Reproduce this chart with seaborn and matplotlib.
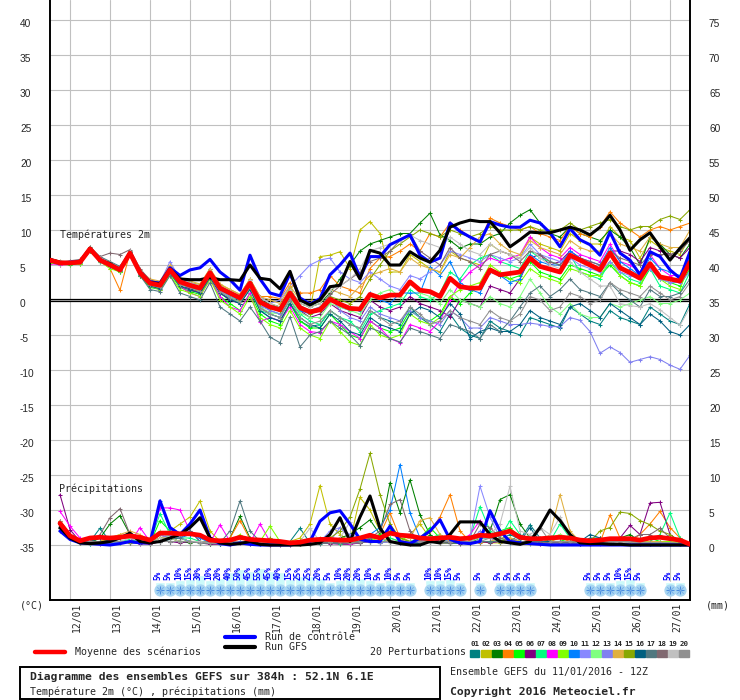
import matplotlib
matplotlib.use("Agg")
import matplotlib.pyplot as plt
import matplotlib.transforms as mtransforms
from matplotlib.patches import Rectangle
from matplotlib.lines import Line2D
import seaborn as sns

sns.set_style("white")
plt.rcParams['font.family'] = ['DejaVu Sans']
plt.rcParams['axes.unicode_minus'] = False
MONO = 'DejaVu Sans Mono'

# forecast steps (hours from 11/01 12Z), every 6h up to 384h
hours = list(range(0, 385, 6))
precip_hours = hours[1:]

day_labels = ['12/01', '13/01', '14/01', '15/01', '16/01', '17/01', '18/01', '19/01',
              '20/01', '21/01', '22/01', '23/01', '24/01', '25/01', '26/01', '27/01']
day_hours = [12 + 24 * k for k in range(len(day_labels))]

pert_names = ['01', '02', '03', '04', '05', '06', '07', '08', '09', '10',
              '11', '12', '13', '14', '15', '16', '17', '18', '19', '20']
pert_colors = ['#008080', '#c0c000', '#008000', '#ff8000', '#00ff00', '#800080', '#00ff80',
               '#ff00ff', '#80ff00', '#0080ff', '#8888ff', '#80ff80', '#8080f0', '#e0b040',
               '#88a800', '#006080', '#507880', '#806870', '#c0c0c0', '#909090']

# ---- temperature 2m (°C)
temp_mean = [5.7, 5.3, 5.3, 5.4, 7.3, 5.7, 5.0, 4.3, 6.7, 3.9,
             2.4, 2.1, 4.3, 2.6, 2.1, 1.7, 3.9, 1.7, 1.0, 0.3,
             2.4, -0.3, -1.0, -1.4, 1.0, -1.1, -1.7, -1.4, 0.1, -0.6,
             -1.2, -1.3, 0.8, 0.3, 0.7, 0.7, 2.6, 1.4, 1.2, 0.5,
             3.1, 1.9, 1.7, 1.7, 4.3, 3.6, 3.8, 4.0, 6.0, 4.8,
             4.4, 4.0, 6.4, 5.7, 5.0, 4.3, 6.7, 4.6, 3.9, 3.1,
             5.2, 3.3, 3.0, 2.7, 5.4]
temp_ctrl = [5.6, 5.2, 5.4, 5.5, 7.2, 5.8, 5.1, 4.4, 6.6, 4.0,
             2.6, 2.4, 4.6, 3.5, 4.3, 4.6, 5.8, 4.0, 2.9, 1.4,
             6.4, 3.0, 1.0, 0.6, 3.8, 0.3, -0.6, 0.2, 3.6, 5.0,
             6.7, 3.2, 6.2, 6.2, 7.9, 8.6, 9.3, 6.4, 5.4, 6.0,
             11.0, 9.8, 9.0, 8.3, 11.2, 10.7, 10.4, 10.4, 11.4, 11.0,
             9.6, 7.6, 10.2, 8.6, 7.9, 6.4, 9.7, 6.7, 5.7, 3.6,
             6.9, 6.2, 4.3, 3.1, 6.9]
temp_gfs = [5.8, 5.4, 5.2, 5.5, 7.4, 5.6, 5.2, 4.2, 6.8, 3.8,
            2.5, 2.3, 4.4, 3.0, 2.9, 2.9, 3.2, 2.9, 2.9, 2.8,
            5.0, 3.1, 2.9, 1.6, 4.1, 0.0, -0.7, 0.0, 1.9, 2.1,
            5.5, 3.0, 7.1, 6.7, 5.0, 5.0, 6.9, 6.0, 5.4, 7.1,
            10.4, 11.0, 11.4, 11.2, 11.2, 9.6, 7.6, 8.6, 9.7, 9.6,
            9.6, 10.0, 10.4, 10.0, 9.3, 10.4, 12.1, 10.0, 7.1, 8.6,
            9.6, 7.6, 5.7, 7.4, 8.9]

T01 = [5.9, 5.5, 5.2, 5.6, 7.0, 5.5, 4.8, 4.0, 6.5, 3.5,
       2.0, 1.8, 4.0, 2.0, 1.6, 1.2, 3.5, 1.0, 0.2, -0.5,
       1.5, -1.5, -2.5, -3.0, -0.5, -3.0, -3.8, -3.5, -1.5, -2.5,
       -3.5, -4.0, -1.5, -2.5, -3.0, -3.5, -1.0, -2.5, -3.5, -4.5,
       -2.0, -4.0, -5.0, -5.5, -3.0, -4.0, -4.5, -5.0, -2.5, -3.0,
       -3.5, -4.0, -1.0, -2.0, -3.0, -3.5, -1.5, -2.5, -3.0, -3.5,
       -1.0, -2.0, -3.0, -3.5, -0.5]
T02 = [5.4, 5.0, 5.5, 5.2, 7.5, 6.0, 5.3, 4.6, 7.0, 4.2,
       2.8, 2.6, 4.8, 3.0, 2.5, 2.2, 4.2, 2.2, 1.5, 0.8,
       3.0, 0.5, -0.5, -1.0, 1.8, -1.0, -1.5, 6.2, 6.4, 6.9,
       4.5, 10.0, 11.2, 9.5, 4.0, 4.0, 6.5, 5.5, 4.5, 4.0,
       7.0, 6.0, 5.5, 5.0, 8.0, 7.0, 6.5, 6.0, 9.0, 8.0,
       7.5, 7.0, 9.5, 8.5, 8.0, 8.0, 10.5, 9.0, 8.5, 6.0,
       8.5, 7.5, 7.0, 6.5, 9.0]
T03 = [5.6, 5.4, 5.4, 5.3, 7.2, 5.7, 5.0, 4.2, 6.8, 4.0,
       2.6, 2.2, 4.5, 2.8, 2.3, 1.9, 4.0, 1.8, 1.1, 0.5,
       2.6, 0.0, -0.6, -1.0, 1.5, -0.5, -1.0, -0.5, 1.0, 3.0,
       5.0, 7.0, 8.0, 8.5, 9.0, 9.5, 9.5, 11.0, 12.4, 9.3,
       8.5, 7.4, 8.0, 8.0, 9.0, 9.5, 11.0, 12.1, 12.9, 11.0,
       9.5, 9.0, 10.5, 9.5, 9.0, 8.5, 10.0, 9.0, 7.5, 5.0,
       9.0, 8.0, 6.5, 6.0, 8.0]
T04 = [5.5, 5.3, 5.5, 5.6, 7.0, 5.6, 4.5, 1.4, 6.8, 3.5,
       2.5, 2.0, 4.5, 2.0, 1.0, 1.5, 4.0, 1.5, 1.0, 0.5,
       2.0, 0.5, 0.5, 0.2, 2.5, 1.0, 1.0, 1.5, 3.5, 2.0,
       1.5, 1.0, 4.5, 6.0, 6.2, 7.0, 8.0, 7.0, 9.5, 9.0,
       11.0, 10.0, 9.0, 8.5, 11.7, 11.0, 10.5, 10.0, 10.5, 9.5,
       9.0, 8.5, 10.5, 9.5, 9.0, 10.5, 12.6, 11.0, 10.0, 9.0,
       10.0, 10.5, 10.0, 10.5, 11.0]
T05 = [5.3, 5.2, 5.0, 5.2, 7.0, 5.5, 4.8, 4.0, 6.5, 3.5,
       1.8, 1.5, 3.8, 1.8, 1.2, 0.8, 3.0, 0.5, -0.5, -1.5,
       1.0, -2.0, -3.0, -3.5, -0.5, -3.0, -4.0, -4.0, -2.0, -3.5,
       -5.0, -5.5, -3.0, -4.0, -4.5, -4.0, -1.5, -2.5, -3.0, -2.0,
       0.5, -0.5, 1.0, 2.0, 4.5, 3.5, 3.0, 3.5, 5.5, 4.0,
       3.5, 3.0, 5.0, 4.5, 4.0, 3.5, 5.0, 3.5, 2.5, 2.0,
       4.5, 3.0, 2.5, 2.0, 4.5]
T06 = [5.8, 5.4, 5.2, 5.4, 7.3, 5.6, 4.9, 4.3, 6.5, 3.8,
       2.2, 2.0, 4.0, 2.5, 1.5, 1.0, 3.5, 1.0, 0.0, -0.5,
       2.0, -1.0, -2.0, -2.5, 0.5, -1.5, -2.5, -2.0, -0.5, -1.5,
       -2.0, -2.5, 0.0, -1.0, -1.5, -1.0, 0.5, -0.5, -1.0, -1.5,
       -2.4, 0.0, -0.5, -1.0, 2.0, 1.5, 1.0, 3.0, 6.0, 6.5,
       5.0, 5.5, 7.0, 6.0, 5.0, 4.5, 7.0, 7.0, 6.5, 5.5,
       7.5, 7.0, 6.5, 6.0, 7.5]
T07 = [5.6, 5.3, 5.3, 5.4, 7.4, 5.8, 5.2, 4.5, 6.8, 3.8,
       2.3, 2.0, 4.2, 2.4, 2.0, 1.5, 3.8, 1.5, 0.5, -0.5,
       1.8, -1.5, -2.0, -2.5, 0.0, -2.0, -3.0, -3.5, -1.5, -2.5,
       -3.0, -4.5, -2.0, -1.5, -1.0, -0.5, 1.5, 0.5, 0.0, 1.0,
       4.0, 3.0, 5.0, 6.0, 6.5, 5.5, 5.0, 4.5, 7.0, 6.0,
       5.5, 5.0, 6.5, 4.0, 3.5, 3.0, 5.5, 4.0, 3.0, 2.5,
       4.5, 2.0, 1.5, 1.0, 4.0]
T08 = [5.2, 5.0, 5.1, 5.3, 7.1, 5.9, 5.2, 4.5, 6.4, 3.9,
       2.0, 1.5, 4.0, 2.0, 1.0, 0.5, 3.0, 0.5, -1.0, -1.5,
       1.0, -3.1, -2.5, -3.0, -1.0, -3.5, -4.5, -4.7, -3.0, -3.5,
       -4.5, -5.5, -3.0, -4.0, -5.5, -6.1, -3.5, -4.0, -4.5, -3.0,
       0.0, 2.5, 4.0, 5.0, 6.0, 5.5, 6.0, 6.5, 9.0, 7.5,
       6.5, 6.0, 7.5, 6.5, 6.0, 5.5, 8.0, 5.5, 5.0, 4.0,
       6.5, 4.5, 3.5, 3.5, 6.0]
T09 = [5.3, 5.1, 5.2, 5.1, 7.0, 5.5, 4.5, 4.0, 6.5, 3.5,
       2.0, 1.5, 3.5, 1.5, 1.0, 0.5, 3.0, 0.0, -1.0, -2.0,
       0.5, -2.5, -3.5, -4.0, -1.5, -4.0, -5.0, -5.5, -3.0, -4.5,
       -6.0, -6.5, -3.5, -5.0, -5.5, -5.0, -2.0, -3.0, -3.5, -2.5,
       0.5, 1.5, 2.0, 2.5, 5.0, 4.0, 3.0, 2.5, 4.5, 3.5,
       3.0, 2.5, 4.5, 4.0, 3.5, 3.5, 5.5, 3.5, 2.5, 2.0,
       5.0, 3.0, 2.0, 1.5, 5.5]
T10 = [5.7, 5.5, 5.4, 5.6, 7.5, 5.8, 5.1, 4.4, 6.9, 4.1,
       2.7, 2.3, 4.7, 2.8, 2.2, 1.8, 4.5, 1.5, 0.5, 0.0,
       2.5, -0.5, -1.5, -2.0, 1.0, -1.5, -2.0, -1.5, 0.5, -1.0,
       -1.5, -1.5, 1.0, 0.0, -0.5, 1.0, 1.0, 1.0, 4.7, 3.5,
       5.5, 2.5, 1.5, 1.0, 4.0, 3.5, 2.5, 3.0, 6.5, 5.5,
       5.0, 5.0, 7.0, 6.0, 5.5, 5.0, 7.5, 5.5, 4.5, 3.5,
       6.0, 4.5, 4.0, 3.5, 6.0]
T11 = [5.5, 5.2, 5.3, 5.5, 7.3, 5.5, 5.0, 4.4, 6.6, 4.0,
       2.5, 2.5, 5.5, 3.0, 2.5, 2.0, 4.2, 2.0, 1.2, 0.5,
       2.8, 0.5, -0.5, 0.0, 2.0, 3.5, 5.0, 5.7, 6.0, 4.0,
       3.0, 2.5, 4.0, 3.0, 2.0, 1.5, 3.5, 3.0, 4.0, 5.0,
       7.0, 6.5, 6.0, 5.5, 6.5, 6.0, 5.5, 6.0, 8.0, 6.5,
       6.0, 5.5, 6.0, 5.0, 4.5, 4.0, 5.5, 4.0, 3.5, 3.0,
       4.5, 3.0, 2.5, 2.5, 4.0]
T12 = [5.4, 5.2, 5.1, 5.3, 7.1, 5.4, 4.7, 4.1, 6.4, 3.6,
       2.1, 1.8, 4.0, 2.2, 1.8, 1.3, 3.4, 1.2, 0.4, -0.3,
       1.9, -1.0, -1.8, -2.0, 0.3, -1.8, -2.5, -2.5, -0.5, -1.0,
       -1.5, -2.0, 0.0, 1.0, 1.5, 0.5, 2.5, 1.0, 0.5, -0.5,
       1.5, 0.0, -0.5, -1.0, 0.5, -0.5, -1.0, 0.5, 3.0, 1.0,
       -1.0, -2.0, -0.5, -2.0, -2.5, -2.5, -0.5, -1.0, -0.5, 0.0,
       0.5, -0.5, -0.5, 0.0, 1.0]
T13 = [5.6, 5.4, 5.5, 5.4, 7.2, 5.6, 4.9, 4.2, 6.6, 3.7,
       2.2, 1.9, 4.1, 2.3, 1.8, 1.4, 3.6, 1.3, 0.6, 0.0,
       2.2, -0.8, -1.5, -2.0, 0.5, -1.0, -1.5, -1.0, 0.5, -1.5,
       -2.5, -3.0, -1.0, -2.0, -2.5, -3.0, -1.5, -2.5, -3.0, -3.5,
       -1.5, -2.5, -4.0, -4.0, -2.5, -3.0, -3.5, -3.5, -3.3, -3.5,
       -3.8, -3.8, -2.5, -2.9, -4.5, -7.6, -6.7, -7.5, -8.9, -8.5,
       -8.1, -8.5, -9.3, -9.9, -7.9]
T14 = [5.8, 5.6, 5.4, 5.5, 7.6, 6.0, 5.4, 4.6, 7.0, 4.3,
       3.0, 2.7, 5.0, 3.2, 2.7, 2.3, 4.5, 2.3, 1.5, 0.8,
       3.0, 0.5, 0.0, -0.5, 2.0, 0.0, -0.5, 0.0, 1.5, 1.0,
       0.5, 2.0, 3.5, 4.0, 4.5, 4.0, 6.0, 5.0, 4.5, 4.0,
       6.5, 6.0, 7.5, 9.0, 9.5, 8.0, 7.0, 6.5, 8.5, 7.5,
       7.0, 6.5, 8.5, 7.5, 7.0, 7.0, 9.5, 8.0, 7.5, 7.0,
       9.0, 8.0, 7.5, 7.5, 10.0]
T15 = [5.5, 5.3, 5.2, 5.4, 7.2, 5.7, 5.0, 4.3, 6.6, 3.9,
       2.3, 2.0, 4.2, 2.5, 2.0, 1.5, 3.8, 1.5, 0.8, 0.0,
       2.2, -0.5, -1.2, -1.5, 1.0, -1.0, -2.0, -1.5, 0.5, 0.0,
       -0.5, 0.5, 3.0, 5.0, 7.0, 8.0, 9.0, 10.0, 9.5, 9.0,
       10.0, 9.5, 9.0, 9.5, 10.5, 10.0, 10.0, 10.0, 10.5, 10.0,
       10.0, 10.0, 11.0, 10.0, 10.5, 11.0, 11.5, 10.5, 10.0, 10.5,
       10.5, 11.5, 12.0, 11.5, 12.9]
T16 = [5.9, 5.5, 5.4, 5.5, 7.4, 5.6, 4.8, 4.2, 6.6, 3.6,
       2.0, 1.6, 3.9, 2.0, 1.4, 1.0, 3.2, 1.0, 0.0, -0.5,
       1.6, -1.5, -2.5, -3.0, -0.5, -2.5, -3.5, -4.0, -2.0, -3.0,
       -4.5, -5.0, -2.5, -3.5, -4.0, -4.5, -2.0, -1.0, -1.5, -2.5,
       -0.5, -2.0, -5.5, -4.5, -4.0, -4.5, -4.5, -3.5, -1.5, -2.5,
       -3.0, -3.5, -1.0, -0.5, -1.5, -2.5, -0.5, -1.5, -2.5, -3.5,
       -2.0, -3.0, -4.5, -5.0, -3.5]
T17 = [5.7, 5.3, 5.4, 5.4, 7.6, 6.2, 5.5, 4.8, 7.0, 3.5,
       1.5, 1.2, 3.5, 1.0, 0.5, 0.0, 2.5, -1.0, -2.0, -3.0,
       -1.0, -3.0, -5.3, -6.1, -2.4, -6.7, -5.0, -4.5, -3.0, -4.0,
       -5.0, -6.5, -4.0, -4.5, -5.5, -6.0, -4.0, -4.5, -5.0, -5.5,
       -3.5, -4.0, -4.5, -5.5, -3.5, -4.5, -3.0, -1.0, 1.0, 2.0,
       0.5, 1.5, 3.0, 1.5, 1.0, 0.5, 2.5, 1.0, 0.0, -1.0,
       1.5, 0.5, 0.5, 1.0, 3.0]
T18 = [5.5, 5.4, 5.6, 5.8, 7.0, 6.2, 6.7, 6.5, 7.2, 4.5,
       2.8, 2.5, 4.6, 2.7, 2.2, 1.9, 4.0, 2.0, 1.2, 0.6,
       2.5, 0.0, -0.8, -1.2, 1.2, -0.8, -1.5, -1.0, 0.8, 2.0,
       3.0, 4.0, 5.5, 6.0, 7.0, 8.5, 9.5, 7.0, 6.0, 5.0,
       7.5, 6.0, 5.5, 4.5, 6.5, 7.0, 6.5, 5.5, 7.0, 6.5,
       5.5, 5.0, 6.5, 6.0, 5.5, 5.0, 7.0, 6.0, 5.5, 5.0,
       6.5, 6.5, 6.5, 7.0, 8.5]
T19 = [5.8, 5.6, 5.5, 5.6, 7.5, 6.0, 5.3, 4.6, 7.0, 4.2,
       2.7, 2.4, 4.6, 3.0, 2.4, 2.0, 4.2, 2.0, 1.3, 0.6,
       2.8, 0.3, -0.5, -1.0, 1.5, -0.5, -1.0, -0.5, 1.5, 2.0,
       3.0, 4.5, 7.0, 7.5, 8.0, 8.5, 9.3, 8.5, 8.0, 7.5,
       9.0, 8.0, 7.0, 6.5, 8.0, 7.0, 6.5, 6.0, 7.5, 6.0,
       5.0, 4.5, 5.5, 4.0, 3.0, 2.0, 2.0, -0.5, -0.8, -1.0,
       -0.5, -1.4, -2.5, -3.6, -1.1]
T20 = [5.6, 5.3, 5.2, 5.3, 7.2, 5.6, 5.0, 4.1, 6.5, 3.7,
       2.1, 1.8, 4.0, 2.2, 1.8, 1.3, 3.5, 1.2, 0.3, -0.3,
       1.8, -1.2, -2.0, -2.5, 0.0, -2.5, -3.5, -3.0, -1.5, -2.5,
       -3.5, -4.0, -1.5, -2.5, -3.5, -3.0, -1.0, -2.0, -3.5, -3.0,
       -1.5, -2.5, -3.0, -3.5, -1.5, -2.5, -3.0, -2.0, 0.5, 0.0,
       -1.5, -1.0, 1.0, 0.5, -0.5, 0.0, 2.5, 1.5, 1.0, 0.5,
       2.0, 1.0, 0.0, 0.5, 2.5]

# ---- precipitation (mm per 6h), from +6h
rain_mean = [3.1, 1.3, 0.6, 1.0, 1.1, 1.0, 1.1, 1.3, 1.1, 0.7,
             1.7, 1.7, 1.6, 1.6, 1.4, 0.7, 0.6, 0.7, 1.1, 0.8,
             0.7, 0.6, 0.5, 0.3, 0.4, 0.7, 0.8, 0.8, 0.7, 0.7,
             1.0, 1.4, 1.0, 1.7, 1.4, 1.3, 1.0, 0.9, 1.0, 1.1,
             0.9, 1.0, 1.4, 1.3, 1.6, 2.0, 1.1, 0.9, 0.9, 1.0,
             1.1, 1.0, 0.7, 0.6, 0.7, 0.9, 0.9, 0.9, 0.7, 1.0,
             1.1, 0.9, 0.7, 0.1]
rain_ctrl = [2.0, 0.8, 0.3, 0.2, 0.1, 0.0, 0.2, 0.5, 0.3, 0.3,
             6.3, 2.5, 1.5, 3.0, 5.0, 1.0, 0.2, 0.0, 0.3, 0.1,
             0.0, 0.0, 0.0, 0.0, 0.2, 0.5, 3.4, 4.6, 4.9, 3.0,
             0.8, 0.5, 0.5, 2.7, 0.5, 0.2, 1.0, 2.0, 3.6, 0.8,
             0.3, 0.2, 0.5, 4.9, 2.0, 0.5, 0.3, 0.2, 0.1, 0.0,
             0.0, 0.0, 0.0, 0.0, 0.0, 0.0, 0.0, 0.0, 0.0, 0.0,
             0.0, 0.0, 0.0, 0.0]
rain_gfs = [2.5, 1.0, 0.3, 0.2, 0.3, 0.5, 1.0, 1.7, 0.5, 0.3,
            0.5, 1.0, 1.5, 2.5, 3.9, 1.0, 0.3, 0.1, 0.2, 0.5,
            0.1, 0.0, 0.0, 0.0, 0.0, 0.1, 0.3, 1.5, 3.9, 0.5,
            4.0, 7.0, 2.4, 0.5, 0.2, 0.0, 0.0, 0.5, 0.3, 1.5,
            3.3, 3.3, 3.3, 1.5, 0.5, 0.3, 0.1, 0.5, 2.5, 5.0,
            3.5, 1.5, 0.3, 0.2, 0.2, 0.1, 0.1, 0.0, 0.0, 0.0,
            0.0, 0.0, 0.0, 0.0]

R01 = [3.0, 1.0, 0.3, 0.5, 2.4, 0.5, 0.3, 0.5, 1.0, 0.3,
       0.5, 0.8, 1.0, 0.5, 0.3, 0.2, 0.2, 0.3, 0.5, 0.2,
       0.2, 0.1, 0.1, 0.5, 2.4, 0.3, 0.2, 0.3, 0.5, 0.3,
       0.5, 0.8, 1.0, 0.5, 0.5, 0.3, 0.2, 0.5, 0.5, 0.3,
       0.3, 0.5, 1.0, 1.0, 0.8, 1.5, 0.8, 2.9, 1.0, 0.5,
       0.5, 0.5, 0.3, 1.0, 1.0, 0.5, 0.5, 0.3, 0.3, 0.2,
       0.3, 0.3, 0.2, 0.0]
R02 = [3.5, 1.5, 0.5, 0.3, 0.5, 1.0, 1.5, 1.0, 0.5, 0.3,
       1.5, 2.0, 3.0, 4.0, 6.3, 2.0, 0.5, 0.3, 0.5, 0.3,
       0.2, 0.5, 0.3, 0.5, 1.0, 3.0, 8.5, 3.0, 1.5, 0.5,
       6.8, 5.0, 2.0, 1.0, 0.5, 1.5, 3.0, 1.0, 0.5, 0.3,
       0.3, 0.5, 0.5, 0.3, 0.3, 0.5, 0.5, 0.3, 0.2, 1.0,
       1.5, 1.0, 0.5, 0.5, 1.0, 0.5, 0.3, 0.5, 0.3, 0.3,
       0.2, 0.3, 0.2, 0.0]
R03 = [2.5, 1.0, 0.5, 0.3, 1.0, 3.0, 4.2, 1.5, 0.5, 0.3,
       0.5, 1.0, 0.5, 0.3, 0.5, 0.5, 0.3, 1.0, 4.1, 1.0,
       0.3, 0.2, 0.1, 0.1, 0.2, 0.3, 0.5, 0.5, 1.0, 1.5,
       2.5, 3.6, 1.5, 8.9, 4.6, 9.3, 4.3, 1.5, 0.5, 0.5,
       0.5, 0.3, 1.0, 2.0, 6.5, 7.2, 3.0, 1.0, 0.5, 0.5,
       0.5, 0.3, 0.2, 0.3, 0.5, 0.5, 1.0, 1.5, 0.5, 0.3,
       0.5, 0.3, 0.2, 0.0]
R04 = [3.5, 1.5, 0.5, 0.3, 0.5, 0.8, 1.0, 1.5, 0.5, 0.3,
       1.0, 1.5, 1.0, 0.5, 0.5, 0.3, 0.3, 1.0, 3.5, 0.8,
       0.5, 0.2, 0.1, 0.1, 0.2, 0.3, 0.5, 1.0, 0.5, 0.3,
       0.5, 1.0, 1.5, 4.6, 1.0, 0.5, 0.5, 2.0, 4.0, 7.2,
       2.0, 0.5, 0.3, 0.5, 0.5, 1.0, 0.5, 0.3, 0.3, 0.5,
       1.0, 0.5, 0.3, 0.2, 0.3, 4.3, 1.0, 0.5, 1.5, 3.0,
       4.8, 2.5, 1.0, 0.0]
R05 = [2.5, 1.0, 0.3, 0.2, 0.3, 0.5, 0.3, 0.5, 0.3, 0.2,
       3.5, 2.0, 1.0, 0.5, 0.3, 0.2, 0.2, 0.5, 1.0, 0.5,
       0.2, 0.5, 0.2, 0.1, 0.1, 0.2, 0.3, 0.5, 0.3, 0.2,
       0.3, 1.0, 1.5, 2.0, 1.0, 0.5, 1.0, 2.5, 1.0, 0.5,
       0.3, 0.5, 1.0, 1.5, 2.0, 2.5, 1.0, 0.5, 0.3, 0.2,
       0.5, 1.0, 0.5, 0.3, 0.3, 0.5, 0.5, 0.5, 0.8, 1.0,
       0.5, 0.3, 0.5, 0.0]
R06 = [7.2, 2.2, 0.5, 0.3, 0.2, 0.3, 0.5, 0.3, 0.2, 0.1,
       0.5, 0.5, 0.3, 0.5, 0.3, 0.1, 0.1, 0.2, 0.3, 0.1,
       0.1, 0.0, 0.0, 0.0, 0.1, 0.2, 0.3, 0.2, 0.1, 0.1,
       0.3, 0.5, 0.3, 0.5, 0.3, 0.2, 0.5, 1.0, 0.5, 0.3,
       0.2, 0.3, 0.5, 0.3, 0.5, 0.8, 0.5, 0.3, 0.2, 0.5,
       0.5, 0.3, 0.2, 0.1, 0.3, 0.5, 1.0, 2.8, 1.5, 6.0,
       6.1, 1.5, 0.5, 0.0]
R07 = [3.0, 1.0, 0.3, 0.5, 0.3, 0.5, 0.5, 0.8, 0.5, 0.3,
       4.5, 1.5, 1.0, 1.0, 0.5, 0.3, 0.3, 0.5, 0.5, 0.3,
       0.2, 0.2, 0.1, 0.1, 0.1, 0.3, 0.5, 0.3, 0.2, 0.3,
       0.5, 0.5, 0.3, 1.0, 0.5, 0.3, 0.5, 1.0, 1.5, 0.5,
       0.5, 1.0, 5.5, 2.0, 1.0, 3.5, 1.5, 0.5, 0.3, 0.5,
       3.0, 1.0, 0.5, 0.3, 0.3, 0.5, 1.0, 0.5, 0.3, 0.5,
       1.5, 4.6, 1.0, 0.0]
R08 = [4.8, 2.7, 1.0, 0.5, 0.3, 0.5, 0.5, 0.3, 2.5, 0.5,
       5.3, 5.3, 5.0, 2.0, 0.5, 0.3, 2.9, 0.5, 0.5, 0.3,
       3.0, 0.5, 0.2, 0.1, 0.1, 0.2, 0.3, 0.3, 0.3, 0.2,
       0.3, 0.5, 0.3, 0.5, 0.3, 0.3, 0.5, 0.5, 0.3, 0.3,
       0.5, 1.5, 3.5, 1.0, 0.5, 0.5, 0.3, 0.3, 0.2, 0.3,
       0.5, 0.5, 0.3, 0.2, 0.3, 0.3, 0.3, 0.3, 0.2, 0.3,
       0.3, 0.2, 0.2, 0.0]
R09 = [2.0, 1.0, 0.5, 0.3, 0.5, 0.5, 0.5, 0.3, 0.5, 0.3,
       1.5, 2.0, 1.0, 0.5, 0.5, 0.3, 0.3, 0.5, 1.5, 0.5,
       0.5, 2.7, 0.5, 0.1, 0.1, 0.1, 0.3, 0.5, 0.5, 0.3,
       0.5, 1.0, 0.5, 0.5, 0.5, 1.5, 1.0, 0.5, 0.3, 0.3,
       0.3, 0.5, 0.5, 0.5, 0.5, 1.0, 0.5, 0.3, 0.3, 0.3,
       0.5, 0.5, 0.3, 0.5, 0.8, 0.5, 0.5, 0.5, 0.3, 0.5,
       0.5, 0.5, 0.3, 0.0]
R10 = [2.5, 1.0, 0.3, 0.2, 0.3, 0.3, 0.5, 0.3, 0.3, 0.5,
       6.3, 2.0, 1.0, 1.5, 1.0, 0.3, 0.2, 0.3, 0.5, 0.3,
       0.2, 0.1, 0.1, 0.1, 0.1, 0.3, 0.5, 0.3, 0.3, 0.5,
       1.0, 1.5, 2.5, 5.0, 11.5, 4.6, 1.0, 0.5, 0.3, 0.3,
       0.5, 0.5, 0.5, 0.5, 0.5, 0.3, 0.3, 0.2, 0.3, 0.3,
       0.3, 0.3, 0.2, 0.2, 0.3, 0.3, 0.3, 0.2, 0.2, 0.2,
       0.2, 0.2, 0.1, 0.0]
R11 = [2.0, 1.0, 0.3, 0.3, 0.3, 0.5, 0.5, 0.5, 0.3, 0.3,
       1.0, 1.5, 1.0, 0.5, 0.5, 0.3, 0.3, 0.3, 0.5, 0.5,
       0.3, 0.2, 0.1, 0.1, 0.2, 0.5, 0.5, 2.0, 2.5, 1.5,
       1.0, 1.5, 1.0, 0.5, 0.3, 0.3, 0.5, 1.0, 1.0, 0.5,
       0.5, 1.0, 8.4, 4.0, 1.0, 0.5, 0.3, 0.3, 0.5, 0.3,
       0.3, 0.5, 0.3, 0.2, 0.3, 0.5, 0.5, 0.5, 0.3, 0.3,
       0.3, 0.2, 0.2, 0.0]
R12 = [2.5, 1.0, 0.3, 0.3, 0.5, 0.3, 0.3, 0.5, 0.3, 0.3,
       2.0, 1.0, 0.5, 0.5, 0.3, 0.3, 0.3, 0.5, 0.5, 0.5,
       0.3, 0.2, 0.1, 0.1, 0.1, 0.2, 0.3, 0.3, 0.5, 0.3,
       0.5, 0.5, 0.3, 0.5, 0.5, 0.5, 1.0, 0.5, 0.3, 0.3,
       0.5, 0.5, 0.5, 0.5, 0.8, 1.0, 0.5, 0.5, 0.3, 0.5,
       1.5, 0.8, 0.3, 0.3, 0.5, 0.3, 0.3, 0.5, 0.5, 0.3,
       0.3, 0.3, 0.2, 0.0]
R13 = [2.0, 1.0, 0.3, 0.3, 0.3, 0.3, 0.3, 0.3, 0.3, 0.3,
       1.5, 1.0, 1.5, 2.0, 0.5, 0.3, 0.2, 0.3, 0.3, 0.2,
       0.2, 0.2, 0.1, 0.1, 0.1, 0.2, 0.5, 0.5, 2.5, 1.0,
       0.5, 0.5, 0.3, 0.5, 0.3, 0.5, 0.5, 0.5, 0.3, 0.3,
       0.3, 0.5, 2.0, 1.0, 0.5, 0.5, 0.3, 0.3, 0.2, 0.3,
       0.3, 0.3, 0.2, 0.2, 0.2, 0.3, 0.3, 0.3, 0.2, 0.2,
       0.2, 0.2, 0.1, 0.0]
R14 = [2.5, 1.0, 0.5, 0.5, 0.5, 1.0, 1.5, 2.0, 1.5, 0.5,
       1.0, 1.0, 0.5, 0.5, 0.5, 0.3, 0.3, 0.5, 1.0, 0.5,
       0.3, 0.2, 0.1, 0.1, 0.1, 0.3, 1.0, 0.5, 0.5, 0.5,
       0.5, 1.0, 1.0, 0.5, 0.5, 1.0, 3.5, 3.9, 1.5, 0.5,
       0.5, 0.5, 0.5, 0.5, 1.0, 1.0, 0.5, 0.3, 0.5, 1.5,
       7.2, 2.0, 0.5, 0.5, 0.3, 0.5, 0.5, 0.3, 0.3, 0.5,
       0.5, 0.3, 0.3, 0.0]
R15 = [3.0, 1.0, 0.3, 0.3, 0.5, 0.5, 0.5, 0.3, 0.5, 0.3,
       1.0, 1.0, 0.5, 0.5, 0.5, 0.3, 0.5, 0.3, 0.5, 0.3,
       0.3, 1.0, 0.3, 0.1, 0.1, 0.3, 0.5, 1.0, 2.0, 4.0,
       8.0, 13.1, 7.2, 3.0, 1.0, 0.5, 0.5, 0.5, 0.3, 0.3,
       0.3, 0.5, 0.5, 0.5, 0.5, 0.5, 0.3, 0.5, 0.5, 0.5,
       0.5, 0.5, 0.3, 0.5, 2.0, 2.5, 4.7, 4.5, 3.5, 2.9,
       2.0, 1.5, 0.5, 0.0]
R16 = [2.5, 1.0, 0.5, 0.5, 1.0, 0.5, 0.5, 0.5, 0.5, 0.3,
       0.5, 0.5, 0.5, 0.5, 0.3, 0.3, 0.2, 0.3, 0.5, 0.3,
       0.3, 0.2, 0.1, 0.1, 0.5, 0.3, 0.3, 0.3, 0.3, 0.3,
       0.5, 0.5, 0.5, 0.5, 0.5, 0.3, 0.5, 0.5, 0.5, 0.3,
       0.3, 0.3, 0.5, 0.5, 0.5, 0.5, 0.5, 2.5, 0.5, 0.5,
       0.5, 0.3, 0.5, 1.5, 1.0, 0.5, 0.5, 0.5, 0.3, 0.3,
       0.3, 0.3, 0.2, 0.0]
R17 = [2.5, 1.0, 0.5, 0.5, 0.5, 0.5, 0.5, 0.5, 0.5, 0.3,
       0.5, 1.0, 1.0, 2.0, 0.5, 0.3, 0.3, 2.0, 6.3, 2.0,
       0.5, 0.3, 0.1, 0.1, 0.1, 0.2, 0.3, 0.3, 0.3, 0.3,
       0.3, 0.5, 0.5, 0.5, 0.3, 0.5, 0.5, 0.5, 0.5, 0.5,
       0.5, 0.5, 0.5, 0.5, 0.5, 0.5, 1.5, 0.5, 0.5, 0.3,
       0.3, 0.3, 0.2, 0.5, 0.5, 0.3, 0.5, 0.3, 0.3, 0.3,
       0.3, 0.2, 0.2, 0.0]
R18 = [2.5, 1.0, 0.3, 0.5, 1.5, 3.9, 5.2, 1.5, 0.5, 0.3,
       0.5, 0.5, 0.5, 0.5, 0.3, 0.3, 0.3, 0.5, 0.5, 0.3,
       0.3, 0.2, 0.1, 0.1, 0.1, 0.2, 0.3, 0.3, 0.3, 0.3,
       0.3, 1.0, 2.0, 5.8, 6.5, 2.0, 0.5, 0.5, 0.3, 0.3,
       0.5, 0.5, 3.0, 2.5, 1.0, 0.5, 0.3, 0.3, 0.3, 0.3,
       0.3, 0.3, 0.3, 0.3, 0.3, 0.5, 0.5, 0.8, 1.5, 1.5,
       2.4, 1.0, 0.5, 0.0]
R19 = [2.0, 1.0, 0.5, 0.3, 0.3, 0.5, 0.5, 1.0, 0.5, 0.3,
       1.0, 1.0, 0.5, 0.5, 0.5, 0.3, 0.3, 0.5, 1.0, 0.5,
       0.5, 0.3, 0.1, 0.1, 0.5, 2.4, 0.5, 0.5, 1.0, 3.3,
       1.0, 0.5, 0.5, 0.5, 0.5, 0.5, 0.5, 0.5, 0.5, 0.5,
       0.5, 0.5, 1.0, 1.5, 3.0, 8.4, 2.0, 1.5, 2.5, 1.5,
       4.0, 1.5, 0.5, 0.3, 0.3, 0.5, 0.3, 0.3, 0.3, 0.3,
       0.3, 0.3, 0.2, 0.0]
R20 = [3.5, 1.5, 0.5, 0.5, 0.5, 0.5, 0.5, 0.5, 0.5, 0.3,
       0.5, 0.5, 0.5, 0.5, 0.3, 0.3, 0.3, 0.5, 0.5, 0.3,
       0.3, 0.2, 0.1, 0.1, 0.1, 0.3, 0.5, 0.5, 0.5, 0.3,
       0.5, 0.5, 0.5, 0.5, 0.5, 0.5, 0.5, 0.5, 0.5, 0.5,
       0.5, 0.5, 0.5, 1.0, 0.5, 0.5, 1.0, 0.5, 2.5, 0.5,
       0.5, 0.5, 0.3, 0.3, 0.3, 0.5, 0.5, 0.5, 0.3, 0.3,
       0.3, 0.3, 0.2, 0.0]

# ---- snow probability (%) per step
snow_hours = [66, 72, 78, 84, 90, 96, 102, 108, 114, 120, 126, 132, 138, 144, 150, 156,
              162, 168, 174, 180, 186, 192, 198, 204, 210, 216,
              228, 234, 240, 246, 258, 270, 276, 282, 288,
              324, 330, 336, 342, 348, 354, 372, 378]
snow_pct = [5, 5, 10, 15, 30, 10, 20, 40, 50, 45, 55, 45, 40, 15, 25, 25,
            20, 5, 10, 20, 20, 10, 5, 10, 5, 5,
            10, 10, 15, 5, 5, 5, 5, 5, 5,
            5, 5, 5, 10, 15, 5, 5, 5]

temp_perts = [T01, T02, T03, T04, T05, T06, T07, T08, T09, T10,
              T11, T12, T13, T14, T15, T16, T17, T18, T19, T20]
rain_perts = [R01, R02, R03, R04, R05, R06, R07, R08, R09, R10,
              R11, R12, R13, R14, R15, R16, R17, R18, R19, R20]

W, H = 740, 700
fig = plt.figure(figsize=(W / 100, H / 100), dpi=100)
ax = fig.add_axes([50 / W, 100 / H, 640 / W, 600 / H])
ax2 = ax.twinx()

YMIN, YMAX = -300 / 7, 300 / 7
ax.set_xlim(0, 384)
ax.set_ylim(YMIN, YMAX)
ax2.set_ylim(YMIN + 35, YMAX + 35)

# grid
for v in range(-35, 41, 5):
    ax.axhline(v, color='#c0c0c0', lw=0.8, zorder=0)
for h in day_hours:
    ax.axvline(h, color='#c0c0c0', lw=0.8, zorder=0)
ax.axhline(0.21, color='black', lw=0.9, zorder=1)
ax.axhline(-0.21, color='black', lw=0.9, zorder=1)

# temperatures
for t, c in zip(temp_perts, pert_colors):
    sns.lineplot(x=hours, y=t, ax=ax, color=c, lw=0.75, marker='+', markersize=3.2,
                 markeredgecolor=c, markeredgewidth=0.75, sort=False, legend=False, zorder=2)
sns.lineplot(x=hours, y=temp_ctrl, ax=ax, color='#0000ff', lw=2.2, sort=False, zorder=3)
sns.lineplot(x=hours, y=temp_gfs, ax=ax, color='black', lw=2.2, sort=False, zorder=3)
sns.lineplot(x=hours, y=temp_mean, ax=ax, color='#ff0000', lw=3.4, sort=False, zorder=4)

# precipitation (right axis, mm)
for r, c in zip(rain_perts, pert_colors):
    sns.lineplot(x=precip_hours, y=r, ax=ax2, color=c, lw=0.75, marker='+', markersize=3.2,
                 markeredgecolor=c, markeredgewidth=0.75, sort=False, legend=False, zorder=2)
sns.lineplot(x=precip_hours, y=rain_ctrl, ax=ax2, color='#0000ff', lw=2.2, sort=False, zorder=3)
sns.lineplot(x=precip_hours, y=rain_gfs, ax=ax2, color='black', lw=2.2, sort=False, zorder=3)
sns.lineplot(x=precip_hours, y=rain_mean, ax=ax2, color='#ff0000', lw=3.4, sort=False, zorder=4)

# snow probabilities
bar_h = [0.45 + 0.04 * p for p in snow_pct]
ax.bar(snow_hours, bar_h, width=6, bottom=-40.9, color='#ccfafa', zorder=1)
ax.scatter(snow_hours, [-41.4] * len(snow_hours), s=78, color='#a8d6f2', linewidth=0, zorder=2)
ax.scatter(snow_hours, [-41.4] * len(snow_hours), s=40, marker='+', color='#4a8ee0',
           linewidth=0.8, zorder=3)
ax.scatter(snow_hours, [-41.4] * len(snow_hours), s=22, marker='x', color='#7ab0e8',
           linewidth=0.7, zorder=3)
for h, p in zip(snow_hours, snow_pct):
    ax.text(h - 1.0, -40.0, f'{p}%', rotation=90, ha='center', va='bottom', color='#0000ff',
            fontsize=5.5, family=MONO, fontweight='bold', zorder=4)

ax.text(6, 9.3, 'Températures 2m', family=MONO, fontsize=7.2, va='center', ha='left')
ax.text(5.5, -26.9, 'Précipitations', family=MONO, fontsize=7.2, va='center', ha='left')

# spines & ticks
for a in (ax, ax2):
    for s in a.spines.values():
        s.set_visible(False)
ax.spines['left'].set_visible(True)
ax.spines['bottom'].set_visible(True)
ax2.spines['right'].set_visible(True)
for s in (ax.spines['left'], ax.spines['bottom'], ax2.spines['right']):
    s.set_color('black')
    s.set_linewidth(1.4)

ax.set_yticks(range(-35, 41, 5))
ax2.set_yticks(range(0, 76, 5))
ax.tick_params(axis='y', length=0, pad=21.6, labelsize=7.3, labelfontfamily='Liberation Sans')
ax2.tick_params(axis='y', length=0, pad=13.7, labelsize=7.3, labelfontfamily='Liberation Sans')
down = mtransforms.ScaledTranslation(0, -3 / 100, fig.dpi_scale_trans)
for lab in ax.get_yticklabels():
    lab.set_horizontalalignment('left')
    lab.set_transform(lab.get_transform() + down)
for lab in ax2.get_yticklabels():
    lab.set_transform(lab.get_transform() + down)

ax.set_xticks(day_hours)
ax.set_xticklabels(day_labels, rotation=90, family=MONO, fontsize=7)
ax.tick_params(axis='x', length=0, pad=2)
right = mtransforms.ScaledTranslation(7 / 100, 0, fig.dpi_scale_trans)
for lab in ax.get_xticklabels():
    lab.set_transform(lab.get_transform() + right)
ax.set_xlabel('')
ax.set_ylabel('')
ax2.set_ylabel('')
ax2.set_xlabel('')


def fx(px):
    return px / W


def fy(py):
    return 1 - py / H


fig.text(fx(20), fy(606), '(°C)', family=MONO, fontsize=7.2, va='center')
fig.text(fx(706), fy(606), '(mm)', family=MONO, fontsize=7.2, va='center')

# legend
fig.add_artist(Line2D([fx(35), fx(65)], [fy(651.5)] * 2, color='#ff0000', lw=3.2))
fig.text(fx(75), fy(652), 'Moyenne des scénarios', family=MONO, fontsize=7.2, va='center')
fig.add_artist(Line2D([fx(225), fx(255)], [fy(637)] * 2, color='#0000ff', lw=3.0))
fig.text(fx(265), fy(637), 'Run de contrôle', family=MONO, fontsize=7.2, va='center')
fig.add_artist(Line2D([fx(225), fx(255)], [fy(647)] * 2, color='black', lw=3.0))
fig.text(fx(265), fy(647), 'Run GFS', family=MONO, fontsize=7.2, va='center')
fig.text(fx(370), fy(652), '20 Perturbations', family=MONO, fontsize=7.2, va='center')
for k, (name, c) in enumerate(zip(pert_names, pert_colors)):
    x0 = 470 + 11 * k
    fig.add_artist(Rectangle((fx(x0), fy(656.5)), 9.5 / W, 6.5 / H, color=c,
                             transform=fig.transFigure))
    fig.text(fx(x0 + 4.8), fy(644), name, family=MONO, fontsize=5.3, fontweight='bold',
             ha='center', va='center')

fig.add_artist(Rectangle((fx(20), fy(699)), 420 / W, 32 / H, fill=False, edgecolor='black',
                         lw=1.4, transform=fig.transFigure))
fig.text(fx(30), fy(677), 'Diagramme des ensembles GEFS sur 384h : 52.1N 6.1E', family=MONO,
         fontsize=8.2, fontweight='bold', va='center')
fig.text(fx(30), fy(692), 'Température 2m (°C) , précipitations (mm)', family=MONO,
         fontsize=7.2, va='center')
fig.text(fx(450), fy(672), 'Ensemble GEFS du 11/01/2016 - 12Z', family=MONO, fontsize=7.2,
         va='center')
fig.text(fx(450), fy(692), 'Copyright 2016 Meteociel.fr', family=MONO, fontsize=8.2,
         fontweight='bold', va='center')

fig.savefig('out.png', dpi=100)
